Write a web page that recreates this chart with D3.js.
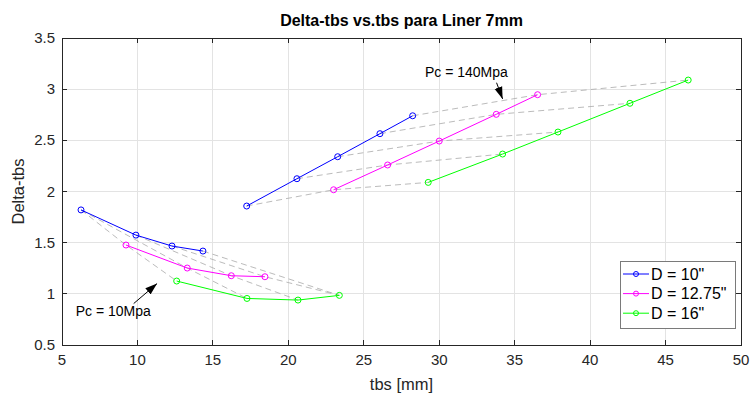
<!DOCTYPE html>
<html><head><meta charset="utf-8">
<script src="https://cdn.jsdelivr.net/npm/d3@7"></script>
<style>
body{margin:0;background:#fff;}
text{font-family:"Liberation Sans",Arial,Helvetica,sans-serif;}
</style></head>
<body><svg id="c" width="752" height="394"></svg>
<script>
// ---- data ----
const seriesNames = ['D = 10"', 'D = 12.75"', 'D = 16"'];
const seriesColors = ["#0000ff", "#ff00ff", "#00ff00"];
// low-Pc branch
const blueLowX  = [6.26, 9.9, 12.29, 14.34];
const blueLowY  = [1.82, 1.574, 1.467, 1.418];
const magLowX   = [9.24, 13.3, 16.22, 18.45];
const magLowY   = [1.477, 1.252, 1.177, 1.167];
const greenLowX = [12.6, 17.26, 20.64, 23.38];
const greenLowY = [1.125, 0.955, 0.939, 0.985];
// high-Pc branch
const blueHighX  = [17.24, 20.57, 23.27, 26.07, 28.24];
const blueHighY  = [1.858, 2.125, 2.34, 2.565, 2.74];
const magHighX   = [23.0, 26.58, 30.0, 33.78, 36.52];
const magHighY   = [2.017, 2.259, 2.493, 2.754, 2.946];
const greenHighX = [29.27, 34.2, 37.87, 42.64, 46.5];
const greenHighY = [2.089, 2.366, 2.581, 2.862, 3.089];
// constant-Pc link lines: indices into [blue, magenta, green] of each branch (-1 = skip)
const lowLinks  = [[0,0,0],[0,1,1],[1,2,2],[2,3,3],[3,-1,3]];
const highLinks = [[0,0,0],[1,1,1],[2,2,2],[3,3,3],[4,4,4]];
const xTicks = [5,10,15,20,25,30,35,40,45,50];
const yTicks = [0.5,1,1.5,2,2.5,3,3.5];
const titleText = "Delta-tbs vs.tbs para Liner 7mm";
const xLabel = "tbs [mm]";
const yLabel = "Delta-tbs";
const annotations = [
  {text:"Pc = 140Mpa", tx:31.8, ty:3.12, ax0:33.8, ay0:3.063, ax1:34.2, ay1:2.905},
  {text:"Pc = 10Mpa",  tx:8.4,  ty:0.78, ax0:9.75, ay0:0.905, ax1:11.3, ay1:1.10}
];

// ---- layout ----
const L=62, T=38, R=741, B=345;
const svg = d3.select("#c");
const x = d3.scaleLinear().domain([5,50]).range([L,R]);
const y = d3.scaleLinear().domain([0.5,3.5]).range([B,T]);

const defs = svg.append("defs");
defs.append("marker").attr("id","ah").attr("viewBox","0 0 12 10").attr("refX",12).attr("refY",5)
  .attr("markerWidth",12).attr("markerHeight",10).attr("markerUnits","userSpaceOnUse").attr("orient","auto")
  .append("path").attr("d","M0,1 L12,5 L0,9 Z").attr("fill","#000");

// grid
const g = svg.append("g");
g.selectAll(".gx").data(xTicks).join("line").attr("x1",d=>x(d)).attr("x2",d=>x(d)).attr("y1",T).attr("y2",B)
  .attr("stroke","#e3e3e3").attr("stroke-width",1).attr("shape-rendering","crispEdges");
g.selectAll(".gy").data(yTicks).join("line").attr("y1",d=>y(d)).attr("y2",d=>y(d)).attr("x1",L).attr("x2",R)
  .attr("stroke","#e3e3e3").attr("stroke-width",1).attr("shape-rendering","crispEdges");

// link lines
const lowSets = [[blueLowX,blueLowY],[magLowX,magLowY],[greenLowX,greenLowY]];
const highSets = [[blueHighX,blueHighY],[magHighX,magHighY],[greenHighX,greenHighY]];
function linkPts(sets, idx){ const p=[]; idx.forEach((k,s)=>{ if(k>=0) p.push([sets[s][0][k], sets[s][1][k]]); }); return p; }
const line = d3.line().x(d=>x(d[0])).y(d=>y(d[1]));
const links = lowLinks.map(l=>linkPts(lowSets,l)).concat(highLinks.map(l=>linkPts(highSets,l)));
g.selectAll(".lk").data(links).join("path").attr("d",line).attr("fill","none")
  .attr("stroke","#aaaaaa").attr("stroke-width",0.8).attr("stroke-dasharray","6,4");

// series
[lowSets, highSets].forEach(sets=>{
  sets.forEach((s,i)=>{
    const pts = s[0].map((v,k)=>[v, s[1][k]]);
    g.append("path").attr("d",line(pts)).attr("fill","none").attr("stroke",seriesColors[i]).attr("stroke-width",1);
    g.selectAll(null).data(pts).join("circle").attr("cx",d=>x(d[0])).attr("cy",d=>y(d[1])).attr("r",3)
      .attr("fill","none").attr("stroke",seriesColors[i]).attr("stroke-width",1);
  });
});

// axes box & ticks
const ax = svg.append("g").attr("shape-rendering","crispEdges");
ax.append("rect").attr("x",L).attr("y",T).attr("width",R-L).attr("height",B-T).attr("fill","none").attr("stroke","#262626").attr("stroke-width",1);
const tl=5;
xTicks.forEach(v=>{
  ax.append("line").attr("x1",x(v)).attr("x2",x(v)).attr("y1",B).attr("y2",B-tl).attr("stroke","#262626");
  ax.append("line").attr("x1",x(v)).attr("x2",x(v)).attr("y1",T).attr("y2",T+tl).attr("stroke","#262626");
});
yTicks.forEach(v=>{
  ax.append("line").attr("y1",y(v)).attr("y2",y(v)).attr("x1",L).attr("x2",L+tl).attr("stroke","#262626");
  ax.append("line").attr("y1",y(v)).attr("y2",y(v)).attr("x1",R).attr("x2",R-tl).attr("stroke","#262626");
});
svg.selectAll(".xt").data(xTicks).join("text").attr("x",d=>x(d)).attr("y",B+20).attr("text-anchor","middle")
  .attr("font-size",15).attr("fill","#262626").text(d=>d);
svg.selectAll(".yt").data(yTicks).join("text").attr("x",L-7).attr("y",d=>y(d)+5).attr("text-anchor","end")
  .attr("font-size",15).attr("fill","#262626").text(d=>d);

// labels
svg.append("text").attr("x",(L+R)/2).attr("y",26).attr("text-anchor","middle").attr("font-size",16)
  .attr("font-weight","bold").attr("fill","#000").text(titleText);
svg.append("text").attr("x",(L+R)/2).attr("y",390).attr("text-anchor","middle").attr("font-size",16.5)
  .attr("fill","#262626").text(xLabel);
svg.append("text").attr("transform",`translate(24,${(T+B)/2}) rotate(-90)`).attr("text-anchor","middle")
  .attr("font-size",16.5).attr("fill","#262626").text(yLabel);

// annotations
annotations.forEach(a=>{
  svg.append("text").attr("x",x(a.tx)).attr("y",y(a.ty)).attr("text-anchor","middle").attr("font-size",14)
    .attr("fill","#000").text(a.text);
  svg.append("line").attr("x1",x(a.ax0)).attr("y1",y(a.ay0)).attr("x2",x(a.ax1)).attr("y2",y(a.ay1))
    .attr("stroke","#000").attr("stroke-width",1).attr("marker-end","url(#ah)");
});

// legend
const lg = svg.append("g");
lg.append("rect").attr("x",620.5).attr("y",261.5).attr("width",114.5).attr("height",67)
  .attr("fill","#fff").attr("stroke","#7a7a7a").attr("stroke-width",1).attr("shape-rendering","crispEdges");
seriesNames.forEach((n,i)=>{
  const yy = 274 + i*19.6;
  lg.append("line").attr("x1",623).attr("x2",649).attr("y1",yy).attr("y2",yy).attr("stroke",seriesColors[i]).attr("stroke-width",1);
  lg.append("circle").attr("cx",636).attr("cy",yy).attr("r",2.5).attr("fill","none").attr("stroke",seriesColors[i]);
  lg.append("text").attr("x",651).attr("y",yy+5.5).attr("font-size",16).attr("fill","#000").text(n);
});
</script></body></html>
